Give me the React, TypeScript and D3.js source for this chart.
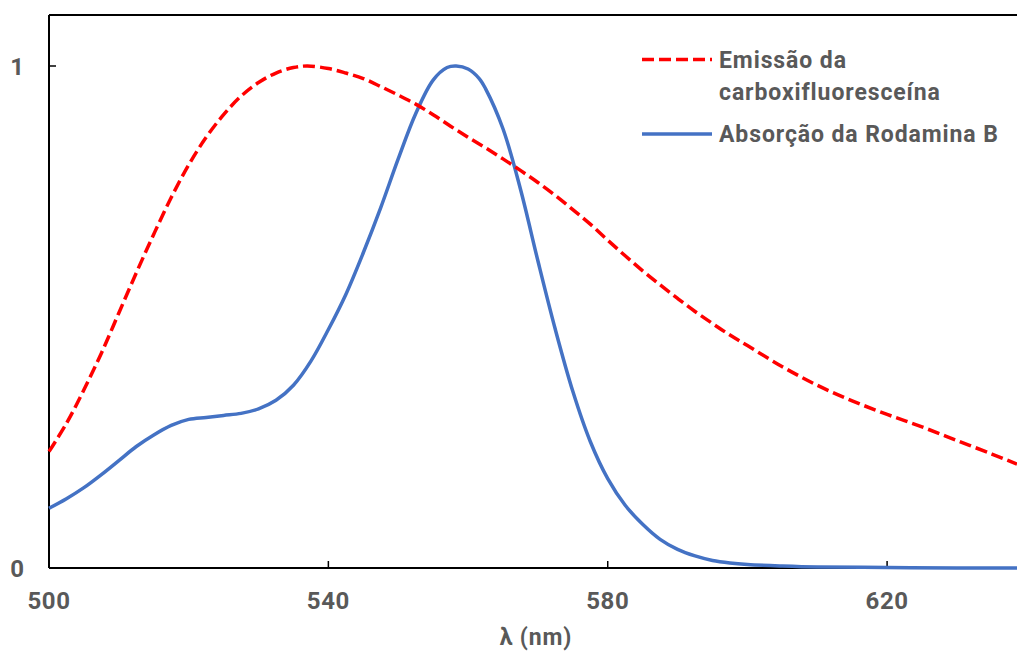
import React, { useEffect, useRef } from 'react';
import * as d3 from 'd3';

// Emissão da carboxifluoresceína (dashed red)
const emissionNm = [500, 502.5, 505, 507.5, 510, 512.5, 515, 517.5, 520, 522.5, 525, 527.5, 530, 532.5, 535, 537, 540, 542.5, 545, 547.5, 550, 552.5, 555, 557.5, 560, 562.5, 565, 567.5, 570, 572.5, 575, 577.5, 580, 582.5, 585, 587.5, 590, 592.5, 595, 597.5, 600, 605, 610, 615, 620, 625, 630, 635, 638.6];
const emissionVal = [0.232, 0.288, 0.355, 0.428, 0.508, 0.588, 0.665, 0.738, 0.803, 0.858, 0.903, 0.940, 0.967, 0.986, 0.997, 1.0, 0.995, 0.986, 0.975, 0.959, 0.942, 0.924, 0.903, 0.880, 0.858, 0.837, 0.815, 0.792, 0.768, 0.742, 0.714, 0.685, 0.653, 0.622, 0.592, 0.564, 0.537, 0.511, 0.487, 0.464, 0.443, 0.401, 0.364, 0.333, 0.306, 0.281, 0.254, 0.227, 0.207];

// Absorção da Rodamina B (solid blue)
const absorptionNm = [500, 502.5, 505, 507.5, 510, 512.5, 515, 517.5, 520, 522.5, 525, 527.5, 530, 532.5, 535, 537.5, 540, 542.5, 545, 547.5, 550, 552.5, 555, 557, 558.3, 560, 561.6, 562.5, 565, 567.5, 570, 572.5, 575, 577.5, 580, 582.5, 585, 587.5, 590, 592.5, 595, 597.5, 600, 605, 610, 620, 630, 638.6];
const absorptionVal = [0.119, 0.138, 0.160, 0.186, 0.214, 0.242, 0.265, 0.284, 0.296, 0.300, 0.304, 0.308, 0.317, 0.334, 0.364, 0.412, 0.475, 0.545, 0.628, 0.718, 0.815, 0.905, 0.972, 0.997, 1.0, 0.994, 0.975, 0.955, 0.875, 0.755, 0.612, 0.475, 0.352, 0.252, 0.178, 0.125, 0.087, 0.057, 0.037, 0.024, 0.015, 0.010, 0.007, 0.004, 0.002, 0.001, 0.0, 0.0];

const xTicks = [500, 540, 580, 620];
const yTicks = [0, 1];
const legendLabels = [['Emissão da', 'carboxifluoresceína'], ['Absorção da Rodamina B']];

const W = 1017;
const H = 653;
const FONT = 'Roboto, "Liberation Sans", sans-serif';
const GREY = '#595959';

const App: React.FC = () => {
  const svgRef = useRef<SVGSVGElement>(null);

  useEffect(() => {
    document.body.style.margin = '0';
    if (!svgRef.current) return;
    const svg = d3.select(svgRef.current);
    svg.selectAll('*').remove();

    const x = d3.scaleLinear().domain([500, 638.6]).range([49, 1017]);
    const y = d3.scaleLinear().domain([0, 1.1]).range([568, 15.8]);

    const line = d3.line<[number, number]>()
      .x(d => x(d[0]))
      .y(d => y(d[1]))
      .curve(d3.curveCatmullRom.alpha(0.5));

    // top border + axes
    svg.append('line')
      .attr('x1', x(500)).attr('x2', W)
      .attr('y1', 15).attr('y2', 15)
      .style('stroke', '#000').style('stroke-width', 2);

    svg.append('line')
      .attr('x1', x(500)).attr('x2', x(500))
      .attr('y1', 15).attr('y2', y(0))
      .style('stroke', '#000').style('stroke-width', 2);

    svg.append('line')
      .attr('x1', x(500)).attr('x2', W)
      .attr('y1', y(0)).attr('y2', y(0))
      .style('stroke', '#000').style('stroke-width', 2);

    // ticks point inward
    svg.selectAll('.xtick')
      .data(xTicks)
      .enter()
      .append('line')
      .attr('x1', d => x(d)).attr('x2', d => x(d))
      .attr('y1', y(0)).attr('y2', y(0) - 7)
      .style('stroke', '#000').style('stroke-width', 1.5);

    svg.selectAll('.ytick')
      .data(yTicks)
      .enter()
      .append('line')
      .attr('x1', x(500)).attr('x2', x(500) + 7)
      .attr('y1', d => y(d)).attr('y2', d => y(d))
      .style('stroke', '#000').style('stroke-width', 1.5);

    svg.selectAll('.xlabel')
      .data(xTicks)
      .enter()
      .append('text')
      .attr('x', d => x(d))
      .attr('y', 609)
      .style('text-anchor', 'middle')
      .style('font-family', FONT)
      .style('font-weight', 'bold')
      .style('font-size', '24px')
      .style('letter-spacing', '0.6px')
      .style('fill', GREY)
      .text(d => d);

    svg.selectAll('.ylabel')
      .data(yTicks)
      .enter()
      .append('text')
      .attr('x', 24)
      .attr('y', d => y(d) + 8.5)
      .style('text-anchor', 'end')
      .style('font-family', FONT)
      .style('font-weight', 'bold')
      .style('font-size', '24px')
      .style('fill', GREY)
      .text(d => d);

    svg.append('text')
      .attr('x', 536)
      .attr('y', 645)
      .style('text-anchor', 'middle')
      .style('font-family', FONT)
      .style('font-weight', 'bold')
      .style('font-size', '23px')
      .style('letter-spacing', '0.9px')
      .style('fill', GREY)
      .text('λ (nm)');

    // series
    const emission = emissionNm.map((nm, i) => [nm, emissionVal[i]] as [number, number]);
    const absorption = absorptionNm.map((nm, i) => [nm, absorptionVal[i]] as [number, number]);

    svg.append('path')
      .attr('d', line(absorption))
      .style('fill', 'none')
      .style('stroke', '#4472C4')
      .style('stroke-width', 3.5);

    svg.append('path')
      .attr('d', line(emission))
      .style('fill', 'none')
      .style('stroke', '#FF0000')
      .style('stroke-width', 3.5)
      .style('stroke-dasharray', '12 5');

    // legend
    const legend = svg.append('g');
    const legendItems = [
      { y: 59.5, color: '#FF0000', dash: '12 5', lines: legendLabels[0] },
      { y: 134, color: '#4472C4', dash: null, lines: legendLabels[1] },
    ];
    legendItems.forEach(item => {
      legend.append('line')
        .attr('x1', 642).attr('x2', 712)
        .attr('y1', item.y).attr('y2', item.y)
        .style('stroke', item.color)
        .style('stroke-width', 3.5)
        .style('stroke-dasharray', item.dash);
      item.lines.forEach((t, j) => {
        legend.append('text')
          .attr('x', 719)
          .attr('y', item.y + 8 + j * 32)
          .style('font-family', FONT)
          .style('font-weight', 'bold')
          .style('font-size', '23px')
          .style('letter-spacing', '0.9px')
          .style('fill', GREY)
          .text(t);
      });
    });
  }, []);

  return <svg ref={svgRef} width={W} height={H} style={{ display: 'block', background: '#fff' }} />;
};

export default App;
